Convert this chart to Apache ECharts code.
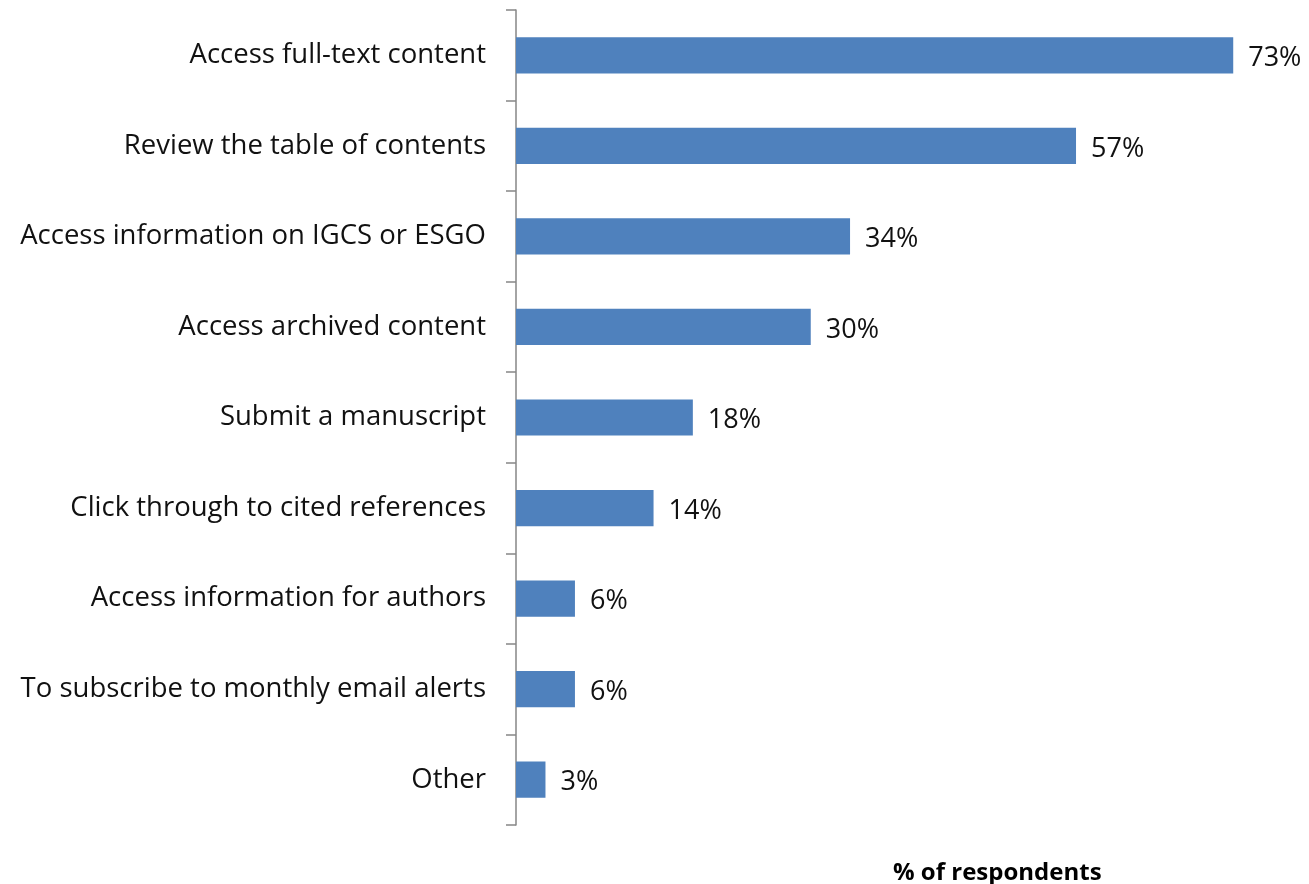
<!DOCTYPE html>
<html>
<head>
<meta charset="utf-8">
<script src="https://cdn.jsdelivr.net/npm/echarts@6/dist/echarts.min.js"></script>
<style>
  html, body { margin: 0; padding: 0; background: #ffffff; }
  #chart { width: 1309px; height: 884px; }
</style>
</head>
<body>
<div id="chart"></div>
<script>
// Purposes for visiting the journal site, top to bottom
const categories = [
  'Access full-text content',
  'Review the table of contents',
  'Access information on IGCS or ESGO',
  'Access archived content',
  'Submit a manuscript',
  'Click through to cited references',
  'Access information for authors',
  'To subscribe to monthly email alerts',
  'Other'
];
// Share of respondents (%)
const values = [73, 57, 34, 30, 18, 14, 6, 6, 3];
const axisTitle = '% of respondents';

const FONT = '"Open Sans", sans-serif';

const chart = echarts.init(document.getElementById('chart'));
chart.setOption({
  animation: false,
  backgroundColor: '#ffffff',
  title: {
    text: axisTitle,
    left: 893,
    top: 861,
    padding: 0,
    textStyle: { fontFamily: FONT, fontSize: 24, fontWeight: 'bold', color: '#000' }
  },
  grid: { left: 516, right: 7, top: 10, bottom: 59, containLabel: false },
  xAxis: {
    type: 'value',
    min: 0,
    max: 80,
    show: false
  },
  yAxis: {
    type: 'category',
    data: categories,
    inverse: true,
    axisLine: { show: true, lineStyle: { color: '#868686', width: 1.5 } },
    axisTick: { show: true, length: 10, lineStyle: { color: '#868686', width: 1.5 } },
    axisLabel: { fontFamily: FONT, fontSize: 27.5, color: '#111', margin: 30 },
    splitLine: { show: false }
  },
  series: [{
    type: 'bar',
    data: values,
    barWidth: '40%',
    itemStyle: { color: '#4F81BD' },
    label: {
      show: true,
      position: 'right',
      distance: 15,
      offset: [0, 3],
      formatter: '{c}%',
      fontFamily: FONT,
      fontSize: 27,
      color: '#111'
    }
  }]
});
</script>
</body>
</html>
